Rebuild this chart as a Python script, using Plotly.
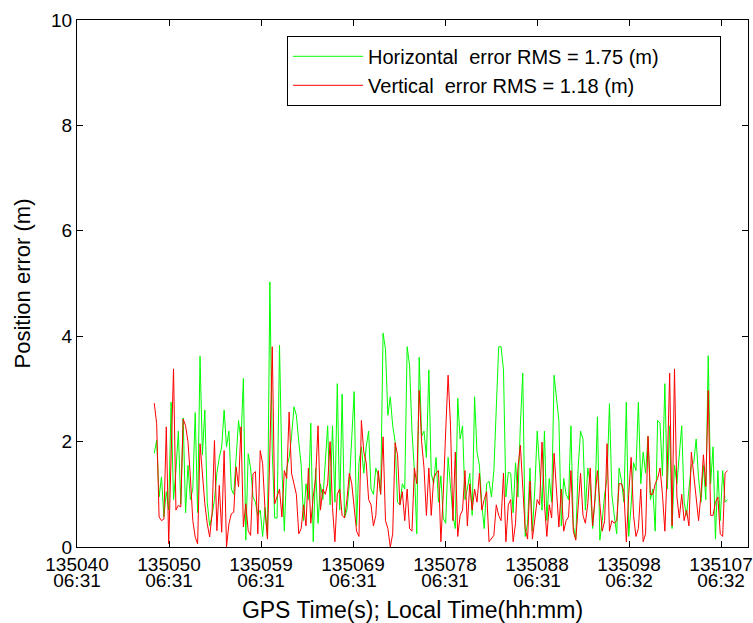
import plotly.graph_objects as go

# ---- data ----
t_start = 135048.27   # GPS seconds of first sample
dt = 0.25             # sampling interval (s)

horizontal_err = [
    1.78, 2.03, 0.95, 1.33, 0.57, 1.05, 0.7, 2.75, 0.9, 1.45,
    2.2, 0.82, 2.45, 0.65, 1.55, 0.9, 1.1, 2.55, 0.65, 3.62,
    1.75, 2.6, 0.85, 0.4, 0.6, 0.9, 1.4, 1.7, 1.9, 2.6,
    1.9, 2.2, 1.1, 1.0, 1.7, 2.4, 2.0, 3.2, 0.13, 1.77,
    1.5, 0.95, 0.85, 0.6, 0.7, 0.2, 0.75,
    0.2, 5.03, 1.8, 0.55, 0.55, 3.83, 1.5, 0.3, 1.5, 1.7,
    2.1, 2.66, 2.5, 2.0, 1.55, 0.5, 1.2, 0.9, 2.35, 0.1,
    1.5, 0.45, 1.2, 0.9, 1.6, 2.3, 0.8, 2.3, 0.85, 3.1,
    0.7, 2.9, 0.55, 0.7, 1.2, 2.0, 2.95, 0.4, 1.6, 1.9,
    1.4, 1.9, 2.2, 1.1, 1.0, 1.5, 1.35, 1.0,
    4.06, 3.75, 2.5, 2.85, 2.3, 2.0, 0.85, 0.8, 1.2, 1.1,
    3.8, 3.45, 2.2, 1.45, 0.25, 3.6, 2.1, 2.2, 1.7, 3.36,
    1.4, 1.2, 1.7, 0.85, 1.35, 0.55, 0.45, 1.7, 1.2, 0.6,
    0.35, 2.82, 2.05, 2.3, 0.9, 1.1, 1.4, 0.6, 2.85, 1.8,
    1.55, 0.8, 0.35, 1.2, 1.25, 0.95, 1.45, 2.6, 3.8,
    3.8, 3.36, 0.95, 1.42, 1.4, 0.65, 1.6, 0.95, 2.3, 3.3,
    0.2, 0.45, 1.5, 0.3, 1.1, 2.2, 1.5, 0.7, 2.2, 0.5,
    1.3, 0.85, 3.26, 2.85, 2.4, 0.4, 1.3, 1.0, 0.9, 2.3,
    0.4, 0.15, 1.5, 2.2, 2.05, 0.7, 1.5, 1.2, 0.35, 0.9,
    2.47, 0.13, 0.5, 1.0, 1.3, 2.72, 1.0, 0.6, 0.25,
    1.5, 1.25, 0.85, 2.75, 0.2, 0.8, 1.6, 1.45, 2.75, 1.2,
    1.8, 1.4, 2.1, 0.9, 1.1, 0.3, 2.4, 2.35, 1.35, 3.1,
    1.1, 2.3, 0.35, 1.55, 1.2, 1.8, 2.3, 0.85, 0.6, 1.1,
    1.55, 1.6, 2.05, 1.3, 0.85, 1.55, 0.9, 3.63, 1.2, 1.9,
    0.15, 1.45, 0.5, 1.45, 0.85, 0.9,
]

vertical_err = [
    2.73, 2.34, 0.57, 0.5, 0.53, 2.28, 0.06, 1.7, 3.38, 0.7,
    0.79, 0.76, 2.43, 2.3, 2.0, 1.33, 0.5, 0.19, 0.06, 1.96,
    1.33, 0.82, 0.44, 0.19, 0.63, 2.02, 0.31, 1.17, 0.28, 1.83,
    0.0, 0.44, 0.63, 0.66, 1.52, 1.14, 2.28, 0.38, 0.82, 0.31,
    0.22, 1.39, 1.43, 0.25, 1.83, 1.58, 0.7,
    0.15, 1.8, 3.8, 0.82, 0.95, 1.1, 0.57, 1.45, 1.3, 2.56,
    1.4, 1.2, 1.0, 0.25, 0.35, 0.8, 0.4, 1.5, 0.45, 0.95,
    1.3, 2.3, 0.7, 1.1, 1.0, 1.2, 2.0, 0.75, 0.1, 1.0,
    1.1, 0.6, 0.55, 0.9, 1.4, 1.2, 0.8, 0.3, 0.2, 2.4,
    1.8, 1.6, 0.9, 0.8, 0.4, 0.6, 1.45, 1.0,
    2.09, 0.5, 0.35, 0.0, 0.25, 1.98, 1.75, 0.8, 1.05, 0.5,
    1.1, 0.35, 0.3, 1.5, 1.2, 2.97, 2.0, 1.5, 0.6, 1.5,
    0.6, 1.3, 1.4, 1.45, 0.1, 1.0, 2.2, 3.26, 2.3, 0.5,
    1.8, 0.2, 0.6, 0.7, 1.45, 0.4, 1.2, 0.7, 1.1, 0.85,
    1.4, 0.7, 0.9, 1.05, 0.1, 0.15, 0.22, 0.8, 0.6,
    0.5, 1.4, 0.1, 0.8, 0.9, 0.1, 0.45, 1.5, 1.93, 1.1,
    0.35, 0.15, 1.25, 0.15, 0.55, 0.9, 0.8, 1.99, 0.82, 0.2,
    0.8, 0.55, 1.78, 1.0, 0.38, 1.1, 0.3, 0.5, 0.57, 1.45,
    0.3, 0.13, 0.7, 1.4, 0.6, 0.45, 0.82, 1.5, 0.4, 1.0,
    1.45, 0.82, 0.3, 0.5, 1.96, 0.3, 0.5, 0.45, 0.5,
    1.2, 1.2, 1.05, 0.1, 1.0, 1.7, 0.6, 0.2, 0.35, 1.1,
    0.1, 0.25, 2.1, 1.0, 1.0, 1.2, 1.3, 1.5, 1.0, 0.3,
    1.5, 3.3, 0.4, 3.38, 0.95, 0.55, 1.0, 0.5, 0.7, 0.4,
    1.8, 1.4, 0.9, 0.5, 1.0, 1.75, 1.15, 2.97, 0.6, 0.6,
    0.85, 0.95, 0.25, 0.2, 1.4, 1.45,
]

gps_time = [t_start + dt * i for i in range(len(horizontal_err))]

tick_pos = [135040.25, 135049.80, 135059.35, 135068.90,
            135078.45, 135088.00, 135097.55, 135107.10]
gps_labels = ["135040", "135050", "135059", "135069",
              "135078", "135088", "135098", "135107"]
local_labels = ["06:31", "06:31", "06:31", "06:31",
                "06:31", "06:31", "06:32", "06:32"]
x_range = [135040.25, 135109.9]
y_ticks = [0, 2, 4, 6, 8, 10]

FONT = "Liberation Sans, Arial, sans-serif"
PAD = "\u00a0" * 10   # widens the legend box like the reference

fig = go.Figure()
fig.add_trace(go.Scatter(
    x=gps_time, y=horizontal_err, mode="lines",
    line=dict(color="#00FF00", width=1),
    name="Horizontal\u00a0 error RMS = 1.75 (m)" + PAD,
))
fig.add_trace(go.Scatter(
    x=gps_time, y=vertical_err, mode="lines",
    line=dict(color="#FF0000", width=1),
    name="Vertical\u00a0 error RMS = 1.18 (m)" + PAD,
))
# empty helper trace so the second (local time) tick-label axis is drawn
fig.add_trace(go.Scatter(
    x=tick_pos, y=[None] * len(tick_pos), xaxis="x2", yaxis="y",
    mode="lines", showlegend=False, hoverinfo="skip",
))

fig.update_layout(
    width=753, height=623,
    margin=dict(l=77, r=5, t=20, b=76, autoexpand=False),
    paper_bgcolor="white", plot_bgcolor="white",
    font=dict(family=FONT, size=19, color="black"),
    showlegend=True,
    legend=dict(
        x=0.313, y=0.97, xanchor="left", yanchor="top",
        bgcolor="white", bordercolor="black", borderwidth=1,
        font=dict(size=20), tracegroupgap=0, itemwidth=70,
    ),
    xaxis=dict(
        range=x_range, tickmode="array", tickvals=tick_pos, ticktext=gps_labels,
        ticks="inside", ticklen=6, tickcolor="black",
        showline=True, linecolor="black", linewidth=1, mirror="ticks",
        showgrid=False, zeroline=False, tickfont=dict(size=19),
        ticklabeloverflow="allow", automargin=False,
    ),
    xaxis2=dict(
        range=x_range, overlaying="x", side="bottom", anchor="y",
        tickmode="array", tickvals=tick_pos, ticktext=local_labels,
        ticks="", showline=False, showgrid=False, zeroline=False,
        tickfont=dict(size=19), ticklabelstandoff=20,
        ticklabeloverflow="allow", automargin=False,
        title=dict(text="GPS Time(s); Local Time(hh:mm)", font=dict(size=23), standoff=12),
    ),
    yaxis=dict(
        range=[0, 10], tickmode="array", tickvals=y_ticks,
        ticks="inside", ticklen=6, tickcolor="black",
        showline=True, linecolor="black", linewidth=1, mirror="ticks",
        showgrid=False, zeroline=False, tickfont=dict(size=19), automargin=False,
        title=dict(text="Position error (m)", font=dict(size=22), standoff=14),
    ),
)

fig.write_html("out.html")
